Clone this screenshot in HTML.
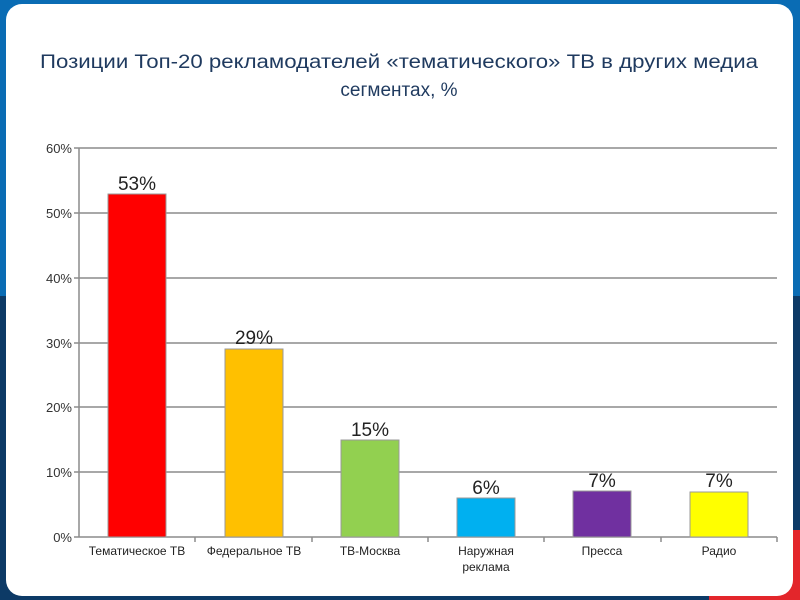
<!DOCTYPE html>
<html><head><meta charset="utf-8"><style>
html,body{margin:0;padding:0;width:800px;height:600px;overflow:hidden;background:#fff}
svg{display:block}
text{font-family:"Liberation Sans",Arial,sans-serif}
</style></head><body>
<svg width="800" height="600" viewBox="0 0 800 600" xmlns="http://www.w3.org/2000/svg">
<rect x="0" y="0" width="800" height="600" fill="#0d3a66"/>
<rect x="0" y="0" width="800" height="296" fill="#0a6cb4"/>
<rect x="709" y="530" width="91" height="70" fill="#e3262b"/>
<rect x="6" y="4" width="787" height="592" rx="16" fill="#fff"/>
<g fill="#1f3a5f" font-size="19" text-anchor="middle">
<text x="399" y="68" textLength="718" lengthAdjust="spacingAndGlyphs">Позиции Топ-20 рекламодателей «тематического» ТВ в других медиа</text>
<text x="399" y="96">сегментах, %</text>
</g>
<g stroke="#8c8c8c" stroke-width="1.5">
<line x1="79" y1="148" x2="777" y2="148"/>
<line x1="79" y1="213" x2="777" y2="213"/>
<line x1="79" y1="278" x2="777" y2="278"/>
<line x1="79" y1="343" x2="777" y2="343"/>
<line x1="79" y1="407" x2="777" y2="407"/>
<line x1="79" y1="472" x2="777" y2="472"/>
<line x1="79" y1="148" x2="79" y2="537"/>
<line x1="74" y1="537" x2="777" y2="537"/>
<line x1="74" y1="148" x2="79" y2="148"/><line x1="74" y1="213" x2="79" y2="213"/><line x1="74" y1="278" x2="79" y2="278"/><line x1="74" y1="343" x2="79" y2="343"/><line x1="74" y1="407" x2="79" y2="407"/><line x1="74" y1="472" x2="79" y2="472"/>
<line x1="195" y1="537" x2="195" y2="542"/><line x1="312" y1="537" x2="312" y2="542"/><line x1="428" y1="537" x2="428" y2="542"/><line x1="544" y1="537" x2="544" y2="542"/><line x1="661" y1="537" x2="661" y2="542"/><line x1="777" y1="537" x2="777" y2="542"/>
</g>
<g fill="#333" font-size="13" text-anchor="end">
<text x="72" y="153">60%</text><text x="72" y="218">50%</text><text x="72" y="283">40%</text>
<text x="72" y="348">30%</text><text x="72" y="412">20%</text><text x="72" y="477">10%</text><text x="72" y="542">0%</text>
</g>
<g stroke="#999" stroke-width="1">
<rect x="108" y="194" width="58" height="343" fill="#ff0000"/>
<rect x="225" y="349" width="58" height="188" fill="#ffc000"/>
<rect x="341" y="440" width="58" height="97" fill="#92d050"/>
<rect x="457" y="498" width="58" height="39" fill="#00b0f0"/>
<rect x="573" y="491" width="58" height="46" fill="#7030a0"/>
<rect x="690" y="492" width="58" height="45" fill="#ffff00"/>
</g>
<g fill="#222" font-size="19" text-anchor="middle">
<text x="137" y="190">53%</text><text x="254" y="344">29%</text><text x="370" y="436">15%</text>
<text x="486" y="494">6%</text><text x="602" y="487">7%</text><text x="719" y="487">7%</text>
</g>
<g fill="#222" font-size="12" text-anchor="middle">
<text x="137" y="555">Тематическое ТВ</text><text x="254" y="555">Федеральное ТВ</text><text x="370" y="555">ТВ-Москва</text>
<text x="486" y="555">Наружная</text><text x="486" y="571">реклама</text>
<text x="602" y="555">Пресса</text><text x="719" y="555">Радио</text>
</g>
</svg>
</body></html>
